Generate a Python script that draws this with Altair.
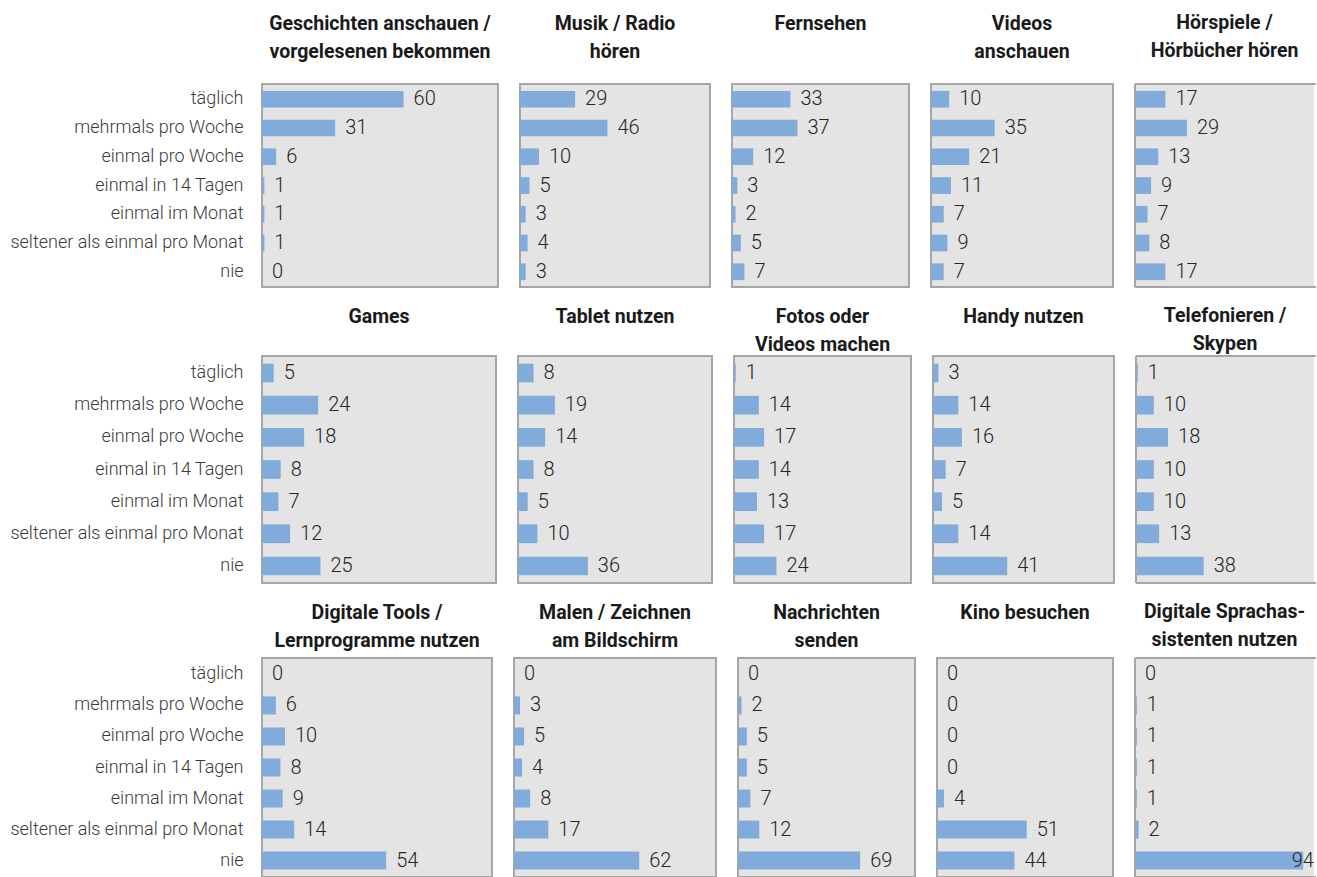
import altair as alt
import pandas as pd

# Häufigkeitsstufen (y-Achse, von oben nach unten)
KATEGORIEN = [
    "täglich",
    "mehrmals pro Woche",
    "einmal pro Woche",
    "einmal in 14 Tagen",
    "einmal im Monat",
    "seltener als einmal pro Monat",
    "nie",
]

# Panel-Überschriften (zeilenweise umbrochen)
TITEL = [
    ["Geschichten anschauen /", "vorgelesenen bekommen"],
    ["Musik / Radio", "hören"],
    ["Fernsehen"],
    ["Videos", "anschauen"],
    ["Hörspiele /", "Hörbücher hören"],
    ["Games"],
    ["Tablet nutzen"],
    ["Fotos oder", "Videos machen"],
    ["Handy nutzen"],
    ["Telefonieren /", "Skypen"],
    ["Digitale Tools /", "Lernprogramme nutzen"],
    ["Malen / Zeichnen", "am Bildschirm"],
    ["Nachrichten", "senden"],
    ["Kino besuchen"],
    ["Digitale Sprachas-", "sistenten nutzen"],
]

# Anteile in Prozent, Reihenfolge wie KATEGORIEN
WERTE = [
    [60, 31, 6, 1, 1, 1, 0],
    [29, 46, 10, 5, 3, 4, 3],
    [33, 37, 12, 3, 2, 5, 7],
    [10, 35, 21, 11, 7, 9, 7],
    [17, 29, 13, 9, 7, 8, 17],
    [5, 24, 18, 8, 7, 12, 25],
    [8, 19, 14, 8, 5, 10, 36],
    [1, 14, 17, 14, 13, 17, 24],
    [3, 14, 16, 7, 5, 14, 41],
    [1, 10, 18, 10, 10, 13, 38],
    [0, 6, 10, 8, 9, 14, 54],
    [0, 3, 5, 4, 8, 17, 62],
    [0, 2, 5, 5, 7, 12, 69],
    [0, 0, 0, 0, 4, 51, 44],
    [0, 1, 1, 1, 1, 2, 94],
]

records = []
for titel, werte in zip(TITEL, WERTE):
    name = " ".join(titel)
    for kat, w in zip(KATEGORIEN, werte):
        records.append({"aktivitaet": name, "haeufigkeit": kat, "anteil": w})
df = pd.DataFrame(records)

BAR_COLOR = "#80ABDA"
FRAME = "#A6A6A6"
FONT = "Roboto"

ROW_HEIGHTS = [203, 227, 219]
ROW_WIDTHS = [
    [236, 190, 177, 182, 179],
    [234, 194, 177, 181, 178],
    [230, 202, 177, 176, 179],
]
TITLE_OFFSETS = [22, 1, 7]


def panel(idx, width, height, offset, first, last):
    titel = TITEL[idx]
    lines = titel if len(titel) == 2 else [titel[0], " "]
    name = " ".join(titel)

    y_axis = (
        alt.Axis(title=None, domain=False, ticks=False, labelPadding=19,
                 labelFont=FONT, labelFontSize=18, labelFontWeight=300,
                 labelColor="#3A3A3A", labelLimit=400)
        if first else None
    )
    y = alt.Y("haeufigkeit:N", sort=KATEGORIEN, axis=y_axis,
              scale=alt.Scale(paddingInner=0.42, paddingOuter=0.24))

    base = alt.Chart(df).transform_filter(alt.datum.aktivitaet == name)

    bars = base.mark_bar(color=BAR_COLOR).encode(
        x=alt.X("anteil:Q", scale=alt.Scale(domain=[0, 100]), axis=None),
        y=y,
    )
    labels = base.transform_calculate(
        pos="min(datum.anteil, 82)"
    ).mark_text(
        align="left", baseline="middle", dx=10, font=FONT, fontSize=20,
        fontWeight=300, color="#262626"
    ).encode(
        x=alt.X("pos:Q", scale=alt.Scale(domain=[0, 100]), axis=None),
        y=y,
        text=alt.Text("anteil:Q"),
    )
    layers = [bars, labels]

    view = alt.ViewBackground(fill="#E4E4E4", stroke=FRAME, strokeWidth=2)
    if last:
        # rechte Spalte: Rahmen nur oben, links und unten
        view = alt.ViewBackground(fill="#E4E4E4", stroke=None)
        edge = alt.Chart(alt.Data(values=[{}]))
        layers += [
            edge.mark_rule(color=FRAME, strokeWidth=2).encode(
                x=alt.value(0), x2=alt.value(width + 2), y=alt.value(0)),
            edge.mark_rule(color=FRAME, strokeWidth=2).encode(
                x=alt.value(0), x2=alt.value(width + 2), y=alt.value(height)),
            edge.mark_rule(color=FRAME, strokeWidth=2).encode(
                x=alt.value(0), y=alt.value(0), y2=alt.value(height)),
        ]

    return alt.layer(*layers).properties(
        width=width,
        height=height,
        view=view,
        title=alt.TitleParams(
            text=lines, font=FONT, fontSize=19.5, fontWeight="bold",
            lineHeight=28, color="#1A1A1A", anchor="middle", offset=offset,
        ),
    )


rows = []
for r in range(3):
    cells = []
    for c in range(5):
        idx = r * 5 + c
        cells.append(panel(idx, ROW_WIDTHS[r][c], ROW_HEIGHTS[r],
                           TITLE_OFFSETS[r], c == 0, c == 4))
    rows.append(alt.hconcat(*cells, spacing=20))

chart = alt.vconcat(*rows, spacing=17).properties(
    padding={"left": 8, "top": 12, "right": 0, "bottom": 1},
    background="white",
).configure_view(
    fill="#E4E4E4", stroke=FRAME, strokeWidth=2
)

chart.save("out.html", embed_options={"renderer": "svg", "actions": False})
